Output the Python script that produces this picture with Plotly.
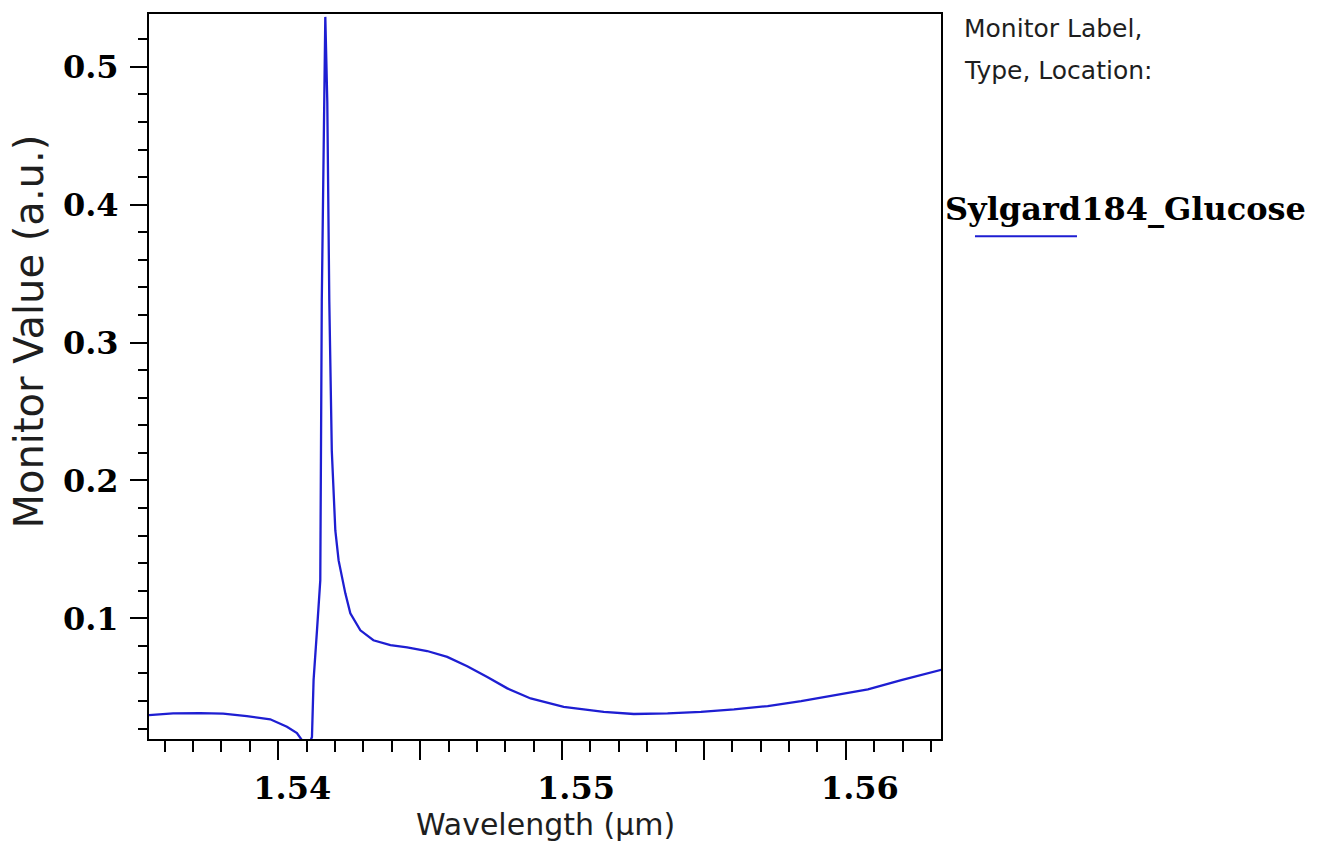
import plotly.graph_objects as go

# Data
wavelength_um = [
    1.535447, 1.536294, 1.537247, 1.538059, 1.538895, 1.539718, 1.540307, 1.540660,
    1.540840, 1.541020, 1.541189, 1.541246, 1.541366, 1.541482, 1.541535, 1.541606,
    1.541659, 1.541729, 1.541800, 1.541888, 1.541959, 1.542012, 1.542128, 1.542365,
    1.542541, 1.542894, 1.543353, 1.543953, 1.544542, 1.545248, 1.545954, 1.546660,
    1.547366, 1.548072, 1.548894, 1.550059, 1.551471, 1.552530, 1.553719, 1.554894,
    1.556059, 1.557248, 1.558424, 1.559588, 1.560778, 1.561953, 1.563400,
]
monitor_value = [
    0.0298, 0.0311, 0.0313, 0.0309, 0.0291, 0.0268, 0.0214, 0.0168,
    0.0115, 0.0050, 0.0139, 0.0552, 0.0913, 0.1275, 0.3300, 0.4747,
    0.5362, 0.4747, 0.3300, 0.2215, 0.1854, 0.1637, 0.1420, 0.1181,
    0.1036, 0.0913, 0.0841, 0.0805, 0.0790, 0.0763, 0.0720, 0.0653,
    0.0575, 0.0492, 0.0419, 0.0358, 0.0322, 0.0306, 0.0311, 0.0322,
    0.0340, 0.0364, 0.0400, 0.0443, 0.0484, 0.0552, 0.0629,
]
x_tickvals = [1.54, 1.545, 1.55, 1.555, 1.56]
x_ticktext = ["1.54", "", "1.55", "", "1.56"]
y_tickvals = [0.1, 0.2, 0.3, 0.4, 0.5]
y_ticktext = ["0.1", "0.2", "0.3", "0.4", "0.5"]
series_name = "Sylgard184_Glucose"

LINE_COLOR = "rgb(30,30,210)"
TEXT_COLOR = "#1e1e1e"

fig = go.Figure()
fig.add_trace(go.Scatter(
    x=wavelength_um, y=monitor_value, mode="lines",
    line=dict(color=LINE_COLOR, width=2.3), name=series_name, showlegend=False,
))

tick_font = dict(family="DejaVu Serif", size=32, color="black", weight="bold")

fig.update_xaxes(
    range=[1.535447, 1.563353],
    tickmode="array", tickvals=x_tickvals, ticktext=x_ticktext,
    ticks="outside", ticklen=19, tickwidth=2, tickcolor="black",
    minor=dict(dtick=0.001, tick0=1.54, ticks="outside", ticklen=11,
               tickwidth=2, tickcolor="black", showgrid=False),
    showline=True, linecolor="black", linewidth=2, mirror=True,
    showgrid=False, zeroline=False,
    tickfont=tick_font, ticklabelshift=14, ticklabelstandoff=1,
)
fig.update_yaxes(
    range=[0.01248, 0.5383],
    tickmode="array", tickvals=y_tickvals, ticktext=y_ticktext,
    ticks="outside", ticklen=17, tickwidth=2, tickcolor="black",
    minor=dict(dtick=0.02, tick0=0, ticks="outside", ticklen=9,
               tickwidth=2, tickcolor="black", showgrid=False),
    showline=True, linecolor="black", linewidth=2, mirror=True,
    showgrid=False, zeroline=False,
    tickfont=tick_font, ticklabelstandoff=5,
)

annotations = [
    dict(text="Monitor Value (a.u.)", textangle=-90, xref="paper", yref="paper",
         x=-0.1515, y=0.562, xanchor="center", yanchor="middle", showarrow=False,
         font=dict(family="DejaVu Sans", size=40, color=TEXT_COLOR)),
    dict(text="Wavelength (\u00b5m)", xref="paper", yref="paper",
         x=0.5, y=-0.1183, xanchor="center", yanchor="middle", showarrow=False,
         font=dict(family="DejaVu Sans", size=30, color=TEXT_COLOR)),
    dict(text="Monitor Label,", xref="paper", yref="paper",
         x=1.0265, y=0.9794, xanchor="left", yanchor="middle", showarrow=False,
         font=dict(family="DejaVu Sans", size=25, color=TEXT_COLOR)),
    dict(text="Type, Location:", xref="paper", yref="paper",
         x=1.0265, y=0.9216, xanchor="left", yanchor="middle", showarrow=False,
         font=dict(family="DejaVu Sans", size=25, color=TEXT_COLOR)),
    dict(text=series_name, xref="paper", yref="paper",
         x=1.003, y=0.7304, xanchor="left", yanchor="middle", showarrow=False,
         font=dict(family="DejaVu Serif", size=32, color="black", weight="bold")),
]

shapes = [
    dict(type="line", xref="paper", yref="paper", x0=1.0429, x1=1.1717,
         y0=0.6933, y1=0.6933, line=dict(color=LINE_COLOR, width=2)),
]

fig.update_layout(
    width=1319, height=865,
    margin=dict(l=149, r=378, t=12, b=126),
    paper_bgcolor="white", plot_bgcolor="white",
    annotations=annotations, shapes=shapes,
    showlegend=False,
)

fig.write_html("out.html")
